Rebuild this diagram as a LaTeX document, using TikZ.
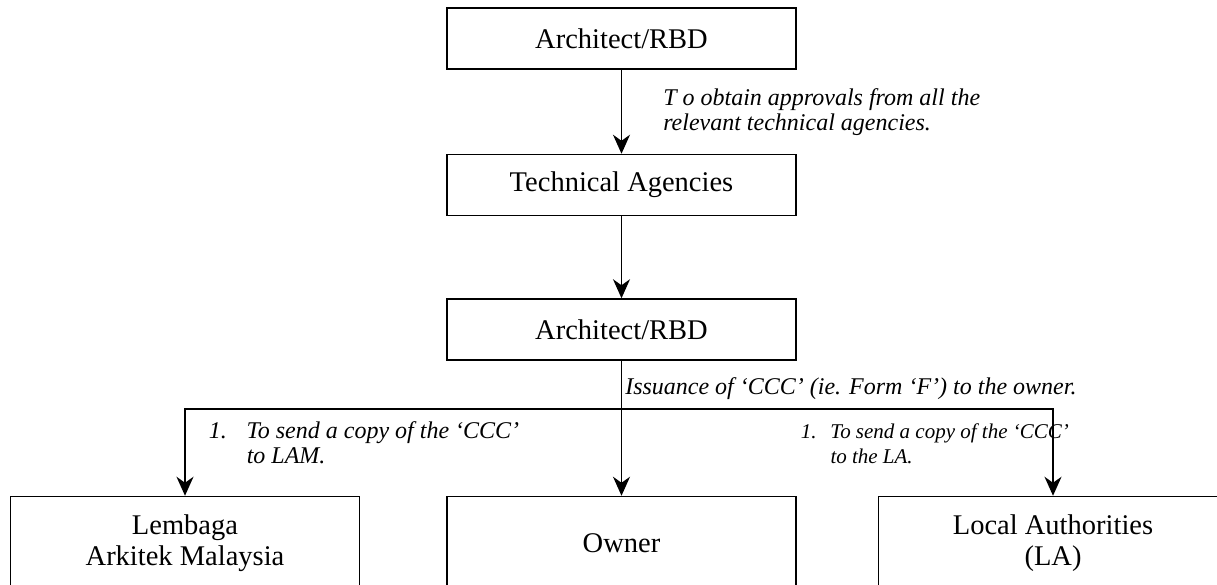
\documentclass[tikz,border=0pt]{standalone}
\usepackage{fontspec}
\setmainfont{Liberation Serif}
\usetikzlibrary{positioning, arrows.meta}

\begin{document}
\begin{tikzpicture}[x=1pt, y=1pt, line width=1.5pt, >={Stealth[length=19pt, width=17pt, inset=6pt]},
        main/.style = {draw, rectangle, minimum width=349pt, minimum height=61pt, font=\fontsize{28.5}{31}\selectfont},
        tall/.style = {main, minimum height=94pt, align=center},
        note/.style = {inner sep=0pt, align=left, font=\fontsize{24}{25}\selectfont\itshape}]
        \useasboundingbox (0,0) rectangle (1217,-584);
        \clip (0,0) rectangle (1217,-584);

        \node[main] (A1) at (621.5,-38.5) {Architect/RBD};
        \node[main] (T) [below=84pt of A1] {Technical Agencies};
        \node[main] (A2) [below=82pt of T] {Architect/RBD};
        \node[tall] (O) [below=135pt of A2] {Owner};
        \node[tall] (L) [left=86pt of O] {Lembaga\\Arkitek Malaysia};
        \node[tall] (LA) [right=81pt of O] {Local Authorities\\(LA)};
        \coordinate[below=48pt of A2] (bar);

        \draw[->] (A1) -- (T) node [midway, right=41pt, note] {T o obtain approvals from all the\\relevant technical agencies.};
        \draw[->] (T) -- (A2);
        \draw[->] (A2) -- (O);
        \draw[<->] (L) |- (bar) -| (LA);

        \node[note, anchor=west] (issue) at ([xshift=3pt, yshift=20pt]bar) {Issuance of ‘CCC’ (ie. Form ‘F’) to the owner.};
        \node[note, anchor=west] (lam) at (208,-445.5) {\begin{tabular}{@{}l@{\hspace{20pt}}l@{}}1. & To send a copy of the ‘CCC’\\ & to LAM.\end{tabular}};
        \node[note, anchor=west, font=\fontsize{21}{25}\selectfont\itshape] (la) at (800,-445.5) {\begin{tabular}{@{}l@{\hspace{14pt}}l@{}}1. & To send a copy of the ‘CCC’\\ & to the LA.\end{tabular}};
    \end{tikzpicture}
\end{document}
